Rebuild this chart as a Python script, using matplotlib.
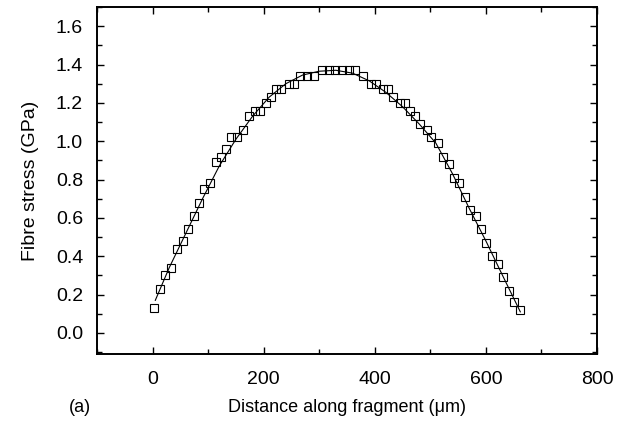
import matplotlib
matplotlib.use("Agg")
import matplotlib.pyplot as plt
from matplotlib.ticker import MultipleLocator

plt.rcParams['font.family'] = ['Liberation Sans', 'DejaVu Sans']

# measured points (distance in um, stress in GPa)
dist = [3, 14, 23, 33, 44, 54, 64, 74, 83, 93, 104, 114, 123, 133, 142, 152,
        163, 173, 184, 193, 204, 213, 223, 232, 245, 255, 266, 278, 290,
        305, 317, 329, 341, 353, 365, 379, 394, 403, 414, 423, 433, 445,
        454, 463, 473, 482, 494, 502, 513, 522, 533, 543, 552, 562, 571,
        582, 592, 601, 611, 621, 630, 641, 651, 661]
stress = [0.13, 0.23, 0.30, 0.34, 0.44, 0.48, 0.54, 0.61, 0.68, 0.75, 0.78,
          0.89, 0.92, 0.96, 1.02, 1.02, 1.06, 1.13, 1.16, 1.16, 1.20, 1.23,
          1.27, 1.27, 1.30, 1.30, 1.34, 1.34, 1.34,
          1.37, 1.37, 1.37, 1.37, 1.37, 1.37, 1.34, 1.30, 1.30, 1.27, 1.27,
          1.23, 1.20, 1.20, 1.16, 1.13, 1.09, 1.06, 1.02, 0.99, 0.92, 0.88,
          0.81, 0.78, 0.71, 0.64, 0.61, 0.54, 0.47, 0.40, 0.36, 0.29, 0.22,
          0.16, 0.12]

# fitted curve
fit_x = [5, 30, 60, 90, 120, 150, 180, 210, 240, 270, 300, 330, 360, 390,
         420, 450, 480, 510, 540, 570, 600, 630, 662]
fit_y = [0.17, 0.34, 0.52, 0.70, 0.87, 1.01, 1.13, 1.23, 1.30, 1.345, 1.365,
         1.37, 1.355, 1.315, 1.255, 1.18, 1.09, 0.99, 0.83, 0.65, 0.48, 0.30,
         0.11]

fig = plt.figure(figsize=(6.24, 4.30), dpi=100)
ax = fig.add_axes([0.1554, 0.1767, 0.8013, 0.807])

ax.plot(fit_x, fit_y, color='black', lw=0.8)
ax.plot(dist, stress, linestyle='none', marker='s', ms=5.5,
        mfc='none', mec='black', mew=0.8)

ax.set_xlim(-100, 800)
ax.set_ylim(-0.11, 1.7)
ax.xaxis.set_major_locator(MultipleLocator(200))
ax.xaxis.set_minor_locator(MultipleLocator(100))
ax.yaxis.set_major_locator(MultipleLocator(0.2))
ax.yaxis.set_minor_locator(MultipleLocator(0.1))
ax.yaxis.set_major_formatter(plt.FormatStrFormatter('%.1f'))

ax.tick_params(which='both', direction='in', top=True, right=True, width=1)
ax.tick_params(which='major', length=5)
ax.tick_params(which='minor', length=3.5)
ax.tick_params(axis='x', pad=12, labelsize=14)
ax.tick_params(axis='y', pad=10, labelsize=14)
for s in ax.spines.values():
    s.set_linewidth(1.4)

ax.set_xlabel('Distance along fragment (μm)', fontsize=13, labelpad=8)
ax.set_ylabel('Fibre stress (GPa)', fontsize=14, labelpad=12)
fig.text(0.128, 0.053, '(a)', fontsize=13, ha='center', va='center')

fig.savefig('out.png', dpi=100)
